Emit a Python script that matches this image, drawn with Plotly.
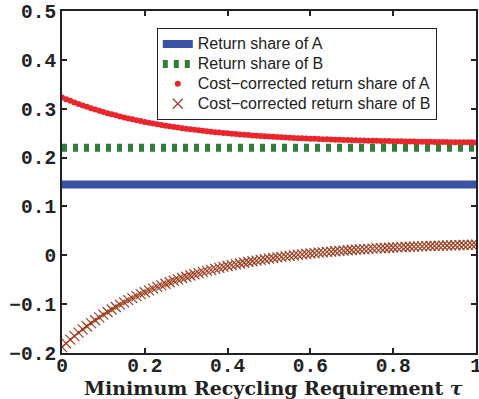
import plotly.graph_objects as go

tau = [i / 100 for i in range(101)]

share_a = 0.145
share_b = 0.22

cc_share_a = [
    0.3230, 0.3195, 0.3161, 0.3129, 0.3097, 0.3067, 0.3038, 0.3010, 0.2984, 0.2958,
    0.2933, 0.2909, 0.2886, 0.2864, 0.2842, 0.2822, 0.2802, 0.2783, 0.2764, 0.2747,
    0.2730, 0.2713, 0.2697, 0.2682, 0.2668, 0.2653, 0.2640, 0.2627, 0.2614, 0.2602,
    0.2591, 0.2579, 0.2569, 0.2558, 0.2548, 0.2539, 0.2529, 0.2520, 0.2512, 0.2504,
    0.2496, 0.2488, 0.2481, 0.2473, 0.2467, 0.2460, 0.2454, 0.2448, 0.2442, 0.2436,
    0.2431, 0.2425, 0.2420, 0.2415, 0.2411, 0.2406, 0.2402, 0.2398, 0.2394, 0.2390,
    0.2386, 0.2383, 0.2379, 0.2376, 0.2373, 0.2370, 0.2367, 0.2364, 0.2361, 0.2358,
    0.2356, 0.2353, 0.2351, 0.2349, 0.2346, 0.2344, 0.2342, 0.2340, 0.2338, 0.2337,
    0.2335, 0.2333, 0.2332, 0.2330, 0.2329, 0.2327, 0.2326, 0.2324, 0.2323, 0.2322,
    0.2321, 0.2320, 0.2318, 0.2317, 0.2316, 0.2315, 0.2314, 0.2314, 0.2313, 0.2312,
    0.2311,
]

cc_share_b = [
    -0.1880, -0.1802, -0.1727, -0.1654, -0.1584, -0.1517, -0.1452, -0.1389, -0.1329, -0.1271,
    -0.1215, -0.1161, -0.1109, -0.1059, -0.1011, -0.0964, -0.0919, -0.0876, -0.0835, -0.0795,
    -0.0756, -0.0719, -0.0683, -0.0648, -0.0615, -0.0583, -0.0552, -0.0522, -0.0493, -0.0465,
    -0.0439, -0.0413, -0.0388, -0.0364, -0.0341, -0.0319, -0.0298, -0.0277, -0.0257, -0.0238,
    -0.0219, -0.0202, -0.0185, -0.0168, -0.0152, -0.0137, -0.0122, -0.0108, -0.0094, -0.0081,
    -0.0068, -0.0056, -0.0044, -0.0033, -0.0022, -0.0011, -0.0001, 0.0009, 0.0018, 0.0028,
    0.0036, 0.0045, 0.0053, 0.0061, 0.0069, 0.0076, 0.0083, 0.0090, 0.0096, 0.0103,
    0.0109, 0.0115, 0.0120, 0.0126, 0.0131, 0.0136, 0.0141, 0.0145, 0.0150, 0.0154,
    0.0159, 0.0163, 0.0167, 0.0170, 0.0174, 0.0177, 0.0181, 0.0184, 0.0187, 0.0190,
    0.0193, 0.0196, 0.0199, 0.0201, 0.0204, 0.0206, 0.0208, 0.0211, 0.0213, 0.0215,
    0.0217,
]

names = [
    "Return share of A",
    "Return share of B",
    "Cost\u2212corrected return share of A",
    "Cost\u2212corrected return share of B",
]

x_title = "Minimum Recycling Requirement <i>\u03c4</i>"
x_ticks = [0, 0.2, 0.4, 0.6, 0.8, 1]
x_tick_labels = ["0", "0.2", "0.4", "0.6", "0.8", "1"]
y_ticks = [-0.2, -0.1, 0, 0.1, 0.2, 0.3, 0.4, 0.5]
y_tick_labels = ["\u22120.2", "\u22120.1", "0", "0.1", "0.2", "0.3", "0.4", "0.5"]

BLUE = "#3953a4"
GREEN = "#2f7d37"
RED = "#e8262b"
BROWN = "#9c3d1f"


def legend_label(s):
    return '<span style="font-size:16px">' + s + "</span>"


fig = go.Figure()
fig.add_trace(go.Scatter(
    x=[tau[0], tau[-1]], y=[share_a, share_a], mode="lines", name=legend_label(names[0]),
    line=dict(color=BLUE, width=8)))
fig.add_trace(go.Scatter(
    x=[tau[0], tau[-1]], y=[share_b, share_b], mode="lines", name=legend_label(names[1]),
    line=dict(color=GREEN, width=8, dash="5px,6px")))
fig.add_trace(go.Scatter(
    x=tau, y=cc_share_a, mode="markers", name=legend_label(names[2]),
    marker=dict(color=RED, size=6, symbol="circle", line=dict(width=0))))
fig.add_trace(go.Scatter(
    x=tau, y=cc_share_b, mode="markers", name=legend_label(names[3]),
    marker=dict(color=BROWN, size=10, symbol="x-thin",
                line=dict(color=BROWN, width=1.2))))

tick_font = dict(family="Liberation Mono", size=19.5, color="#222222", weight="bold")

fig.update_layout(
    width=479, height=399,
    margin=dict(l=62, r=3, t=11, b=46, autoexpand=False),
    paper_bgcolor="white", plot_bgcolor="white",
    showlegend=True,
    legend=dict(
        x=0.229, y=0.950, xanchor="left", yanchor="top",
        bgcolor="white", bordercolor="#222222", borderwidth=1,
        font=dict(family="Liberation Sans", size=13, color="#222222"),
        tracegroupgap=0, itemwidth=30,
    ),
    xaxis=dict(
        range=[0, 1], tickvals=x_ticks, ticktext=x_tick_labels,
        ticks="inside", ticklen=5, tickwidth=1.5, tickcolor="#222222",
        showline=True, linecolor="#222222", linewidth=2, mirror="ticks",
        showgrid=False, zeroline=False, tickfont=tick_font,
        ticklabeloverflow="allow", automargin=False, ticklabelstandoff=-6,
    ),
    yaxis=dict(
        range=[-0.2, 0.5], tickvals=y_ticks, ticktext=y_tick_labels,
        ticks="inside", ticklen=5, tickwidth=1.5, tickcolor="#222222",
        showline=True, linecolor="#222222", linewidth=2, mirror="ticks",
        showgrid=False, zeroline=False, tickfont=tick_font, automargin=False,
    ),
    annotations=[dict(
        text=x_title, xref="paper", yref="paper", x=0.51, y=0,
        xanchor="center", yanchor="middle", yshift=-35, showarrow=False,
        font=dict(family="DejaVu Serif", size=19, color="#222222", weight="bold"),
    )],
)

fig.write_html("out.html")
